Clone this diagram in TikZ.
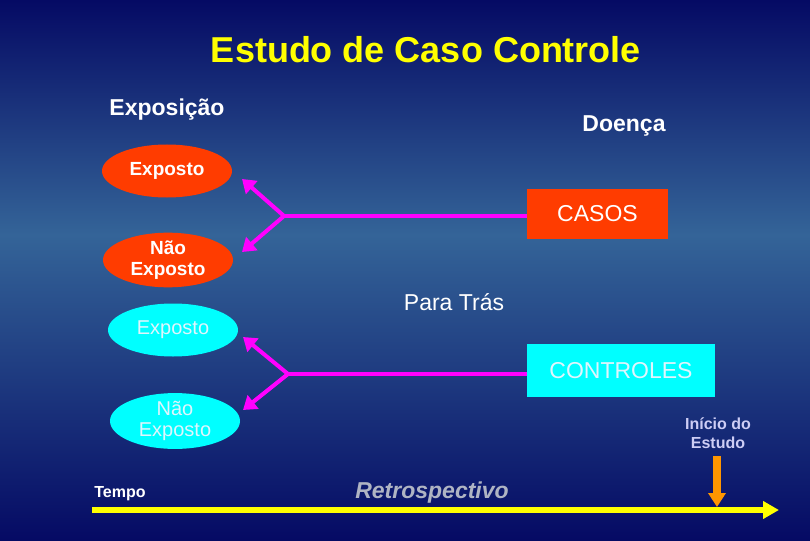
\documentclass[tikz,border=0pt]{standalone}
\usepackage{fontspec}
\setmainfont{Liberation Sans}
\usetikzlibrary{arrows.meta,positioning,shapes.geometric}
\definecolor{bgdark}{RGB}{5,10,100}
\definecolor{bgmid}{RGB}{52,100,152}
\definecolor{casored}{RGB}{255,60,0}
\definecolor{ctrlcyan}{RGB}{0,255,255}
\definecolor{forkpink}{RGB}{255,0,255}
\definecolor{axisyellow}{RGB}{255,255,0}
\definecolor{markorange}{RGB}{255,150,0}
\definecolor{notegray}{RGB}{175,180,195}
\definecolor{notelav}{RGB}{205,205,245}
\tikzset{
  hdr/.style={text=white, inner sep=0pt, font=\fontsize{23}{26}\selectfont\bfseries},
  expred/.style={ellipse, fill=casored, minimum width=130pt, minimum height=53pt,
    inner sep=0pt, text=white, align=center, font=\fontsize{19}{21}\selectfont\bfseries},
  expcyan/.style={expred, fill=ctrlcyan, text=white!88!cyan, font=\fontsize{20}{21}\selectfont},
  grpbox/.style={rectangle, inner sep=0pt, font=\fontsize{23}{26}\selectfont},
  fork/.style={line width=4pt, draw=forkpink},
  forkarrow/.style={fork, -{Triangle[length=13pt,width=17pt]}},
  timeaxis/.style={line width=6pt, draw=axisyellow, -{Triangle[length=16pt,width=17pt]}},
  startmark/.style={line width=8pt, draw=markorange, -{Triangle[length=14pt,width=17pt]}},
}
\begin{document}
\begin{tikzpicture}[x=1pt, y=-1pt]
  \useasboundingbox (0,0) rectangle (810,540);
  % background, lightest band just above the middle
  \shade[top color=bgdark, bottom color=bgmid] (0,0) rectangle (810,235);
  \shade[top color=bgmid, bottom color=bgdark] (0,234.5) rectangle (810,540);
  % titles
  \node[text=axisyellow, font=\fontsize{36}{40}\selectfont\bfseries] (title) at (426,50) {Estudo de Caso Controle};
  \node[hdr] (exposicao) at (167,110) {Exposição};
  \node[hdr] (doenca) at (624,126) {Doença};
  % exposure ellipses
  \node[expred] (casoexp) at (167,171) {Exposto};
  \node[expred] (casonexp) at (168,260) {Não\\Exposto};
  \node[expcyan] (ctrlexp) at (173,330) {Exposto};
  \node[expcyan] (ctrlnexp) at (175,421) {Não\\Exposto};
  % groups
  \node[grpbox, fill=casored, text=white, minimum width=141pt, minimum height=50pt] (casos) at (597.5,214) {CASOS};
  \node[grpbox, fill=ctrlcyan, text=white!88!cyan, minimum width=188pt, minimum height=53pt] (controles) at (621,370.5) {CONTROLES};
  \node[text=white, font=\fontsize{23}{26}\selectfont] (paratras) at (454,302) {Para Trás};
  % forks
  \coordinate (forkA) at (284,216);
  \coordinate (tipA1) at (242,179);
  \coordinate (tipA2) at (242,252);
  \coordinate (forkB) at (288,374);
  \coordinate (tipB1) at (243,337);
  \coordinate (tipB2) at (243,410);
  \draw[fork] (casos.west |- forkA) -- (forkA);
  \draw[forkarrow] (forkA) -- (tipA1);
  \draw[forkarrow] (forkA) -- (tipA2);
  \draw[fork] (controles.west |- forkB) -- (forkB);
  \draw[forkarrow] (forkB) -- (tipB1);
  \draw[forkarrow] (forkB) -- (tipB2);
  % time line
  \coordinate (t0) at (92,510);
  \coordinate (t1) at (779,510);
  \draw[timeaxis] (t0) -- (t1);
  \node[text=white, font=\fontsize{16}{18}\selectfont\bfseries] (tempo) at (120,494) {Tempo};
  \node[text=notegray, font=\fontsize{23}{26}\selectfont\bfseries\itshape] (retro) at (432,493) {Retrospectivo};
  \node[text=notelav, align=center, font=\fontsize{16}{19}\selectfont\bfseries] (inicio) at (718,433) {Início do\\Estudo};
  \coordinate (startpt) at (717,507);
  \draw[startmark] (717,456) -- (startpt);
\end{tikzpicture}
\end{document}
